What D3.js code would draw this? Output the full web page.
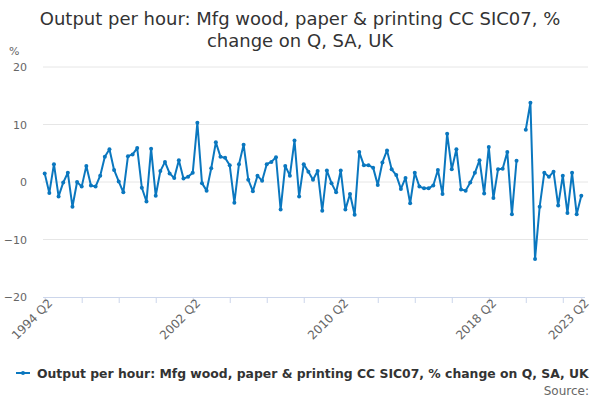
<!DOCTYPE html>
<html>
<head>
<meta charset="utf-8">
<script src="https://cdn.jsdelivr.net/npm/d3@7"></script>
<style>
  body { margin: 0; background: #fff; }
  svg { font-family: "DejaVu Sans", sans-serif; }
</style>
</head>
<body>
<div id="chart"></div>
<script>
// quarterly % change, 1994 Q2 .. 2023 Q2 (2020 Q1 missing)
var values = [
  1.5, -1.9, 3.1, -2.5, -0.1, 1.6, -4.3, 0.0, -0.8, 2.8,
  -0.6, -0.8, 1.1, 4.4, 5.7, 2.1, 0.1, -1.8, 4.5, 4.8,
  5.9, -1.0, -3.4, 5.8, -2.4, 1.9, 3.5, 1.5, 0.7, 3.8,
  0.6, 0.9, 1.6, 10.3, -0.2, -1.5, 2.4, 6.9, 4.4, 4.2,
  2.9, -3.6, 3.1, 6.5, 0.4, -1.6, 1.1, 0.2, 3.1, 3.5,
  4.3, -4.8, 2.8, 1.1, 7.2, -2.5, 3.1, 1.8, 0.4, 1.9,
  -5.0, 2.0, -0.2, -1.8, 2.0, -4.8, -2.1, -5.7, 5.2, 2.9,
  2.9, 2.5, -0.5, 3.4, 5.5, 2.2, 1.2, -1.2, 0.7, -3.7,
  1.6, -0.8, -1.1, -1.1, -0.6, 2.1, -2.1, 8.4, 2.2, 5.7,
  -1.3, -1.5, -0.1, 1.6, 3.8, -2.0, 6.1, -2.8, 2.2, 2.3,
  5.2, -5.6, 3.7, null, 9.1, 13.8, -13.4, -4.3, 1.6, 0.9,
  1.8, -4.1, 1.1, -5.4, 1.6, -5.6, -2.4
];
var quarters = [];
for (var k = 0; k < values.length; k++) {
  var q = k + 1; // 1994 Q2 is index 0
  quarters.push((1994 + Math.floor(q / 4)) + " Q" + (q % 4 + 1));
}
var yTicks = [-20, -10, 0, 10, 20];
var labelQuarters = ["1994 Q2", "2002 Q2", "2010 Q2", "2018 Q2", "2023 Q2"];

var seriesName = "Output per hour: Mfg wood, paper & printing CC SIC07, % change on Q, SA, UK";
var color = "#0a77bf";

var width = 600, height = 400;
var plot = {left: 43, right: 588, top: 67, bottom: 297};

var svg = d3.select("#chart").append("svg")
  .attr("width", width)
  .attr("height", height);

// title
var title = svg.append("text")
  .attr("text-anchor", "middle")
  .attr("fill", "#333")
  .style("font-size", "18px");
title.append("tspan").attr("x", 300).attr("y", 25)
  .text("Output per hour: Mfg wood, paper & printing CC SIC07, %");
title.append("tspan").attr("x", 300).attr("y", 47)
  .text("change on Q, SA, UK");

var x = d3.scaleLinear()
  .domain([0, values.length - 1])
  .range([44.7, 581.3]);
var y = d3.scaleLinear()
  .domain([-20, 20])
  .range([plot.bottom, plot.top]);

// gridlines
svg.append("g")
  .selectAll("line")
  .data(yTicks.filter(function(d) { return d > -20; }))
  .enter().append("line")
    .attr("x1", plot.left)
    .attr("x2", plot.right)
    .attr("y1", function(d) { return y(d); })
    .attr("y2", function(d) { return y(d); })
    .attr("stroke", "#e6e6e6")
    .attr("stroke-width", 1);

// y axis labels
var yAxis = svg.append("g")
  .attr("transform", "translate(" + 27 + ",0)")
  .call(d3.axisLeft(y).tickValues(yTicks).tickSize(0).tickPadding(0));
yAxis.select(".domain").remove();
yAxis.selectAll("text")
  .attr("fill", "#666")
  .style("font-size", "11px")
  .style("font-family", "'DejaVu Sans', sans-serif");

svg.append("text")
  .attr("x", 9)
  .attr("y", 55)
  .attr("fill", "#666")
  .style("font-size", "11px")
  .text("%");

// x axis
var tickIdx = [];
for (var t = 0; t < values.length; t += 8) tickIdx.push(t);
tickIdx.push(values.length - 1);

var xAxis = svg.append("g")
  .attr("transform", "translate(0," + plot.bottom + ")")
  .call(d3.axisBottom(x)
    .tickValues(tickIdx)
    .tickSize(6)
    .tickSizeOuter(0)
    .tickFormat(function(d) {
      return labelQuarters.indexOf(quarters[d]) >= 0 ? quarters[d] : "";
    }));
xAxis.select(".domain")
  .attr("d", "M" + plot.left + ",0.5H" + (plot.right - 3))
  .attr("stroke", "#ccd6eb");
xAxis.selectAll(".tick line").attr("stroke", "#ccd6eb");
xAxis.selectAll("text")
  .attr("fill", "#666")
  .style("font-size", "12px")
  .style("font-family", "'DejaVu Sans', sans-serif")
  .attr("text-anchor", "end")
  .attr("transform", "translate(5,4) rotate(-45)")
  .attr("dy", "0.35em")
  .attr("y", 0);

// line
var line = d3.line()
  .defined(function(d) { return d != null; })
  .x(function(d, i) { return x(i); })
  .y(function(d) { return y(d); });

svg.append("path")
  .datum(values)
  .attr("fill", "none")
  .attr("stroke", color)
  .attr("stroke-width", 2)
  .attr("stroke-linejoin", "round")
  .attr("stroke-linecap", "round")
  .attr("d", line);

svg.append("g")
  .selectAll("circle")
  .data(values.map(function(v, i) { return {v: v, i: i}; })
    .filter(function(d) { return d.v != null; }))
  .enter().append("circle")
    .attr("cx", function(d) { return x(d.i); })
    .attr("cy", function(d) { return y(d.v); })
    .attr("r", 2)
    .attr("fill", color);

// legend
var legend = svg.append("g");
legend.append("line")
  .attr("x1", 16).attr("x2", 30)
  .attr("y1", 373).attr("y2", 373)
  .attr("stroke", color)
  .attr("stroke-width", 2);
legend.append("circle")
  .attr("cx", 23).attr("cy", 373).attr("r", 2)
  .attr("fill", color);
legend.append("text")
  .attr("x", 37)
  .attr("y", 378)
  .attr("fill", "#333")
  .style("font-size", "12.4px")
  .style("font-weight", "bold")
  .text(seriesName);

svg.append("text")
  .attr("x", 589)
  .attr("y", 395)
  .attr("text-anchor", "end")
  .attr("fill", "#666")
  .style("font-size", "12px")
  .text("Source:");
</script>
</body>
</html>
